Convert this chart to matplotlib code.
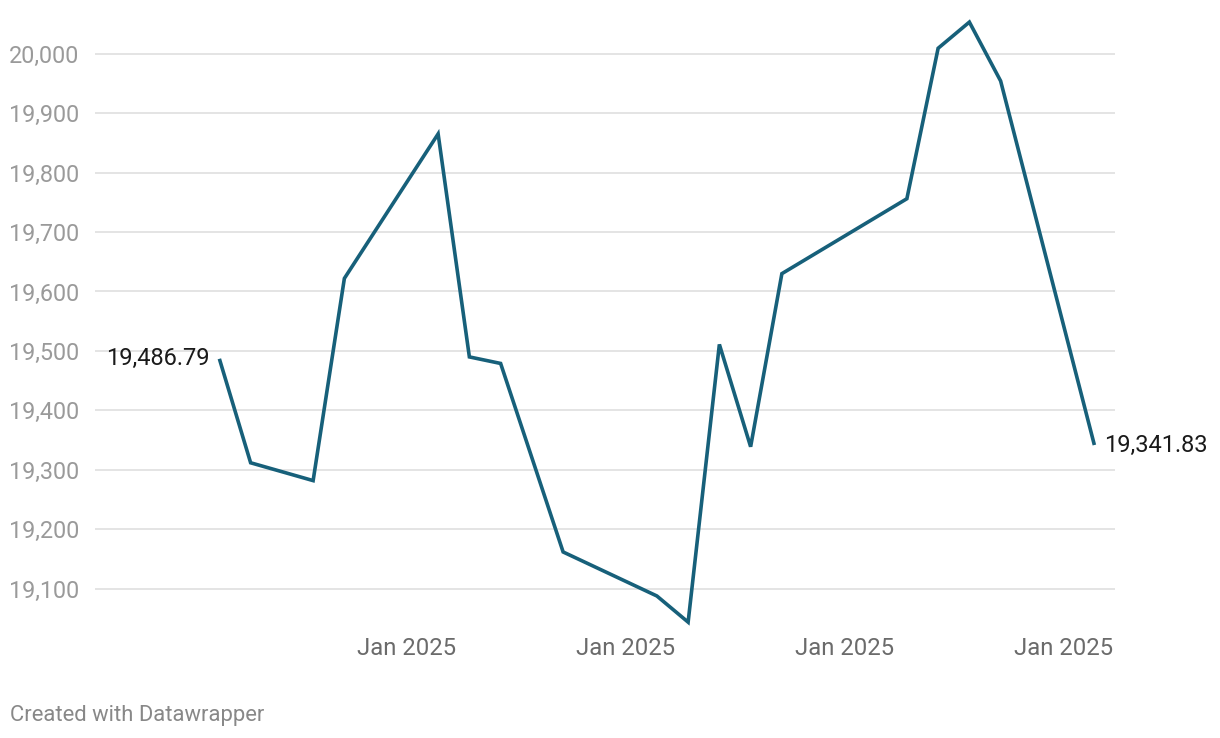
import matplotlib
matplotlib.use("Agg")
import matplotlib.pyplot as plt
import matplotlib.dates as mdates
import matplotlib.ticker as mticker
import pandas as pd

plt.rcParams["font.family"] = ["Roboto", "DejaVu Sans"]

dates = ["2025-01-01", "2025-01-02", "2025-01-04", "2025-01-05", "2025-01-08",
         "2025-01-09", "2025-01-10", "2025-01-12", "2025-01-15", "2025-01-16",
         "2025-01-17", "2025-01-18", "2025-01-19", "2025-01-23", "2025-01-24",
         "2025-01-25", "2025-01-26", "2025-01-29"]
values = [19486.79, 19312, 19282, 19622, 19865, 19490, 19479, 19162, 19088,
          19044, 19511, 19339, 19630, 19756, 20009, 20053, 19954, 19341.83]
x_ticks = ["2025-01-07", "2025-01-14", "2025-01-21", "2025-01-28"]
y_ticks = [19100, 19200, 19300, 19400, 19500, 19600, 19700, 19800, 19900, 20000]

dt = pd.to_datetime(dates)
line_color = "#17607a"

fig = plt.figure(figsize=(12.2, 7.38), dpi=100)
ax = fig.add_axes([95 / 1220, 0.1457, 1020 / 1220, 0.830])

ax.plot(dt, values, color=line_color, lw=2.6, solid_joinstyle="miter",
        solid_capstyle="butt", zorder=3)

x0 = mdates.date2num(dt[0])
ax.set_xlim(x0 - 3.98, x0 + 28.66)
ax.set_ylim(19030, 20060)

ax.set_yticks(y_ticks)
ax.yaxis.set_major_formatter(mticker.FuncFormatter(lambda v, p: "{:,.0f}".format(v)))
ax.set_xticks(pd.to_datetime(x_ticks))
ax.xaxis.set_major_formatter(mdates.DateFormatter("%b %Y"))

ax.grid(axis="y", color="#e4e4e4", lw=1.4, zorder=0)
ax.tick_params(axis="y", length=0, pad=11, labelsize=16.8, labelcolor="#9a9a9a")
ax.tick_params(axis="x", length=0, pad=5, labelsize=17.2, labelcolor="#6b6b6b")
for s in ax.spines.values():
    s.set_visible(False)

ax.annotate("{:,.2f}".format(values[0]), (dt[0], values[0]), xytext=(-7, 0),
            textcoords="offset points", ha="right", va="center",
            fontsize=17, color="#1a1a1a")
ax.annotate("{:,.2f}".format(values[-1]), (dt[-1], values[-1]), xytext=(7, 0),
            textcoords="offset points", ha="left", va="center",
            fontsize=17, color="#1a1a1a")

fig.text(10 / 1220, 1 - 715 / 738, "Created with Datawrapper", ha="left",
         va="center", fontsize=15.8, color="#888888")

fig.savefig("out.png", dpi=100, facecolor="white")
